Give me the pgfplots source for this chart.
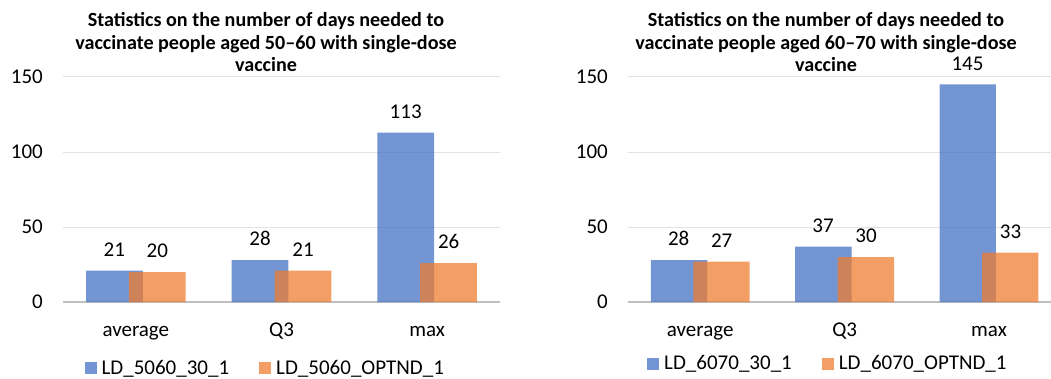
\documentclass[border=0pt]{standalone}
\usepackage{pgfplots}
\pgfplotsset{compat=1.18}
\usepackage{fontspec}
\setmainfont{Carlito}

\definecolor{barblue}{HTML}{4472C4}
\definecolor{barorange}{HTML}{ED7D31}
\definecolor{gridgray}{HTML}{E3E3E3}
\definecolor{basegray}{HTML}{BFBFBF}

\tikzset{charttitle/.style={anchor=base, inner sep=0pt, font=\fontsize{20.1}{22.5}\selectfont\bfseries}}

\pgfplotsset{
  /pgf/number format/assume math mode=true,
  statchart/.style={
    scale only axis,
    height=225pt,
    ymin=0, ymax=150,
    ytick={0,50,100,150},
    xtick={0,1,2},
    xticklabels={average,Q3,max},
    major tick length=0pt,
    ymajorgrids,
    grid style={color=gridgray, line width=1pt},
    axis x line*=bottom,
    axis y line*=left,
    x axis line style={-, color=basegray, line width=2pt},
    y axis line style={draw=none},
    clip=false,
    tick label style={font=\fontsize{21}{25}\selectfont, text=black},
    yticklabel style={inner sep=0pt, xshift=-20pt},
    xticklabel style={inner sep=0pt, anchor=north, text height=0.7em, text depth=0.25em, yshift=-27pt},
    nodes near coords,
    every node near coord/.append style={font=\fontsize{21}{25}\selectfont, text=black, anchor=south, inner sep=0pt, yshift=14pt},
    bar width=0.39,
    legend columns=2,
    legend style={draw=none, fill=none, font=\fontsize{21}{25}\selectfont, inner sep=0pt,
      /tikz/every odd column/.append style={column sep=5pt},
      /tikz/every even column/.append style={column sep=30pt},
      nodes={inner sep=0pt}},
    legend image code/.code={\fill[##1] (0pt,-6pt) rectangle (12pt,6pt);},
    legend cell align=left,
  },
  bluebar/.style={ybar, bar shift=-0.147, draw=none, fill=barblue, fill opacity=0.75, text opacity=1,
    every node near coord/.append style={xshift=-21.5pt}},
  orangebar/.style={ybar, bar shift=0.147, draw=none, fill=barorange, fill opacity=0.75, text opacity=1,
    every node near coord/.append style={xshift=21.5pt}},
}

\begin{document}
\begin{tikzpicture}
\useasboundingbox (0pt,0pt) rectangle (1051pt,378pt);

% Age group 50-60
\begin{axis}[statchart,
  at={(63pt,76pt)}, anchor=south west,
  width=437pt, xmin=-0.5, xmax=2.5,
  legend style={at={(0.049,-0.259)}, anchor=north west}]
\addplot[bluebar] coordinates {(0,21) (1,28) (2,113)};
\addplot[orangebar] coordinates {(0,20) (1,21) (2,26)};
\legend{LD\_5060\_30\_1, LD\_5060\_OPTND\_1}
\end{axis}
\node[charttitle] at (266pt,351pt) {Statistics on the number of days needed to};
\node[charttitle] at (266pt,328.5pt) {vaccinate people aged 50--60 with single-dose};
\node[charttitle] at (266pt,306pt) {vaccine};

% Age group 60-70
\begin{axis}[statchart,
  at={(628pt,76pt)}, anchor=south west,
  width=423pt, xmin=-0.5, xmax=2.429,
  legend style={at={(0.045,-0.238)}, anchor=north west}]
\addplot[bluebar] coordinates {(0,28) (1,37) (2,145)};
\addplot[orangebar] coordinates {(0,27) (1,30) (2,33)};
\legend{LD\_6070\_30\_1, LD\_6070\_OPTND\_1}
\end{axis}
\node[charttitle] at (826pt,351pt) {Statistics on the number of days needed to};
\node[charttitle] at (826pt,328.5pt) {vaccinate people aged 60--70 with single-dose};
\node[charttitle] at (826pt,306pt) {vaccine};
\end{tikzpicture}
\end{document}
